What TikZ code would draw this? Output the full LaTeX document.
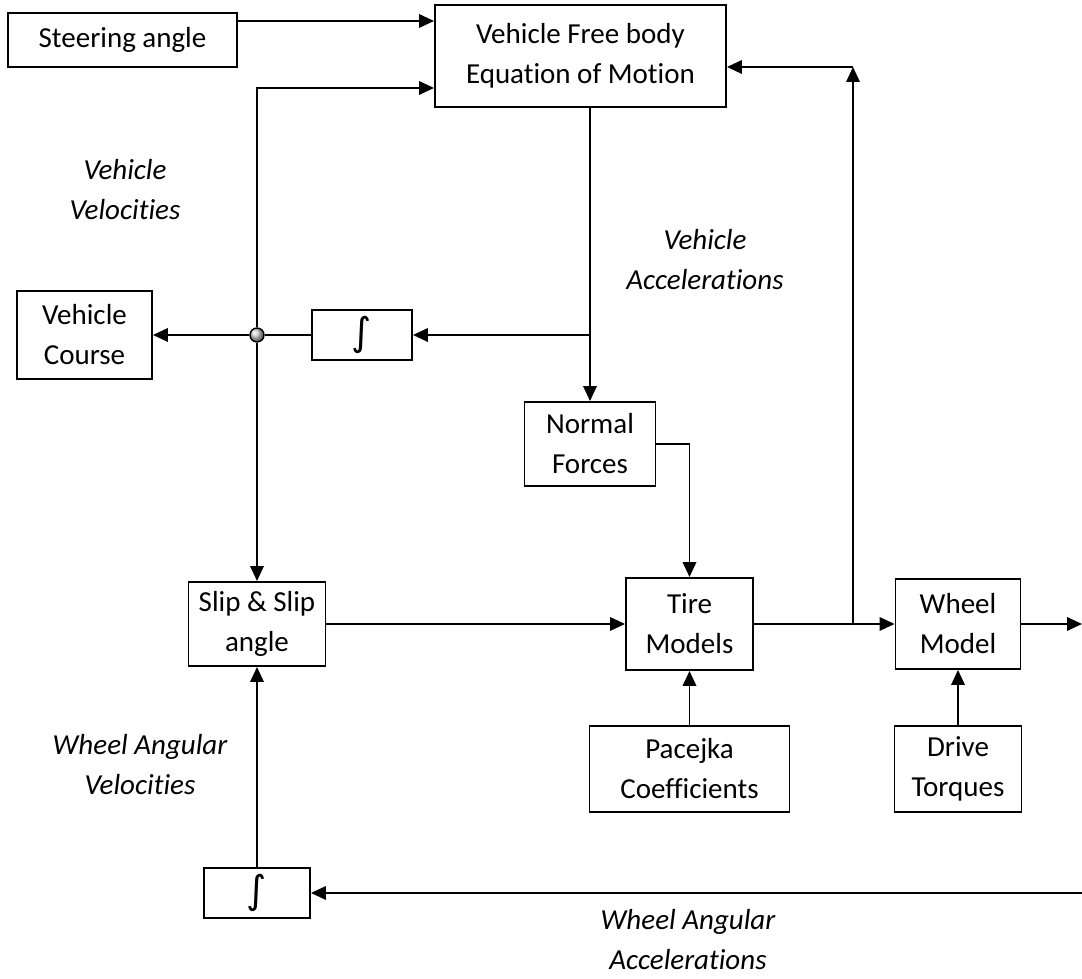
\documentclass[tikz,border=0pt]{standalone}
\usepackage{fontspec}
\setmainfont{Carlito}[Ligatures=NoCommon]
\newfontfamily\symfam{DejaVu Sans}
\usetikzlibrary{arrows.meta,calc}

\begin{document}
\begin{tikzpicture}[
    line width=1.1pt,
    blk/.style={draw, line width=1.1pt, align=center, inner sep=0pt, font=\fontsize{16.5}{22.8}\selectfont},
    intbox/.style={blk, minimum height=1.00cm, font=\symfam\fontsize{22}{22}\selectfont},
    lbl/.style={align=center, font=\fontsize{16.5}{22.8}\selectfont\itshape},
    arr/.style={-{Triangle[length=0.3cm,width=0.27cm]}}
  ]
  \useasboundingbox (0,0) rectangle (21.64,19.58);

  %--- Vehicle body ---
  \node[blk, minimum width=4.58cm, minimum height=1.08cm] (steer) at (2.45,18.78) {Steering angle};
  \node[blk, minimum width=5.82cm, minimum height=2.04cm] (eom) at (11.61,18.46) {Vehicle Free body\\Equation of Motion};
  \node[blk, minimum width=2.70cm, minimum height=1.76cm] (course) at (1.69,12.88) {Vehicle\\Course};
  \node[intbox, minimum width=2.00cm] (int1) at (7.24,12.88) {∫};
  \node[circle, draw, line width=0.8pt, inner sep=0pt, minimum size=0.28cm, ball color=gray!40] (junc) at (5.14,12.88) {};
  \node[blk, minimum width=2.62cm, minimum height=1.68cm] (normal) at (11.80,10.70) {Normal\\Forces};

  %--- Tires and wheels ---
  \node[blk, minimum width=2.74cm, minimum height=1.68cm] (slip) at (5.14,7.10) {Slip \& Slip\\angle};
  \node[blk, minimum width=2.54cm, minimum height=1.84cm] (tire) at (13.79,7.10) {Tire\\Models};
  \node[blk, minimum width=2.50cm, minimum height=1.80cm] (wheel) at (19.16,7.10) {Wheel\\Model};
  \node[blk, minimum width=4.00cm, minimum height=1.72cm] (pacejka) at (13.79,4.20) {Pacejka\\Coefficients};
  \node[blk, minimum width=2.54cm, minimum height=1.72cm] (drive) at (19.16,4.20) {Drive\\Torques};
  \node[intbox, minimum width=2.12cm] (int2) at (5.14,1.72) {∫};

  \coordinate (split) at (17.06,7.10);
  \coordinate (back) at (17.06,18.24);
  \coordinate (out) at (21.64,7.10);
  \coordinate (wacc) at (21.64,1.72);

  % signal labels
  \node[lbl] (vvel) at (2.50,15.78) {Vehicle\\Velocities};
  \node[lbl] (vacc) at (14.10,14.38) {Vehicle\\Accelerations};
  \node[lbl] (wvel) at (2.80,4.28) {Wheel Angular\\Velocities};
  \node[lbl] (waccl) at (13.76,0.78) {Wheel Angular\\Accelerations};

  %--- Connectors ---
  \draw[arr] (steer.east |- 0,19.16) -- (eom.west |- 0,19.16);
  \draw[arr] (junc.north) |- (eom.west |- 0,17.82);
  \draw[arr] (normal.north |- eom.south) -- (normal.north);
  \draw[arr] (normal.north |- int1.east) -- (int1.east);
  \draw (int1.west) -- (junc.east);
  \draw[arr] (junc.west) -- (course.east);
  \draw[arr] (junc.south) -- (slip.north);
  \draw[arr] (normal.east) -| (tire.north);
  \draw[arr] (slip.east) -- (tire.west);
  \draw[arr] (tire.east) -- (wheel.west);
  \draw[arr] (split) -- (back);
  \draw[arr] (back) -- (eom.east |- back);
  \draw[arr] (wheel.east) -- (out);
  \draw[arr] (pacejka.north) -- (tire.south);
  \draw[arr] (drive.north) -- (wheel.south);
  \draw[arr] (wacc) -- (int2.east);
  \draw[arr] (int2.north) -- (slip.south);
\end{tikzpicture}
\end{document}
